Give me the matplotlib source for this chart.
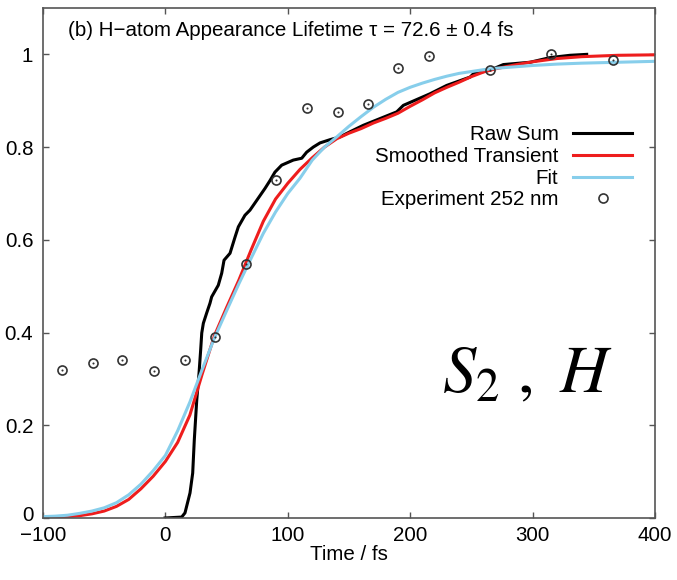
import matplotlib
matplotlib.use('Agg')
import matplotlib.pyplot as plt
import matplotlib.transforms as mtrans

plt.rcParams['font.family'] = ['Liberation Sans', 'DejaVu Sans']
plt.rcParams['font.size'] = 14.8
plt.rcParams['mathtext.fontset'] = 'stix'

# --- data ---
# raw sum (black, stepwise)
raw_t = [-0.3, 13.3, 16.0, 20.1, 22.3, 23.6, 25.6, 27.5, 28.8, 29.7, 31.0, 33.7, 36.4,
         37.8, 43.2, 46.0, 47.9, 52.8, 56.9, 59.6, 65.0, 69.1, 74.6, 81.4, 85.5, 89.5,
         95.0, 104.5, 111.4, 115.4, 120.8, 126.3, 134.5, 142.6, 150.8, 161.7, 189.0,
         194.4, 216.2, 229.8, 248.9, 251.6, 265.2, 276.1, 298.0, 314.2, 330.6, 344.2]
raw_y = [0.0, 0.002, 0.011, 0.054, 0.097, 0.168, 0.254, 0.313, 0.362, 0.399, 0.420,
         0.442, 0.463, 0.477, 0.502, 0.528, 0.556, 0.571, 0.606, 0.628, 0.653, 0.664,
         0.685, 0.711, 0.728, 0.746, 0.761, 0.772, 0.776, 0.789, 0.800, 0.809, 0.816,
         0.822, 0.833, 0.847, 0.876, 0.890, 0.915, 0.933, 0.951, 0.958, 0.966, 0.978,
         0.983, 0.993, 0.998, 1.0]

# smoothed transient (red)
smooth_t = [-100, -90, -80, -70, -60, -50, -40, -30, -20, -10, 0, 10, 20, 30, 40, 50,
            60, 70, 80, 90, 100, 110, 120, 130, 140, 150, 160, 170, 180, 190, 200, 210,
            220, 230, 240, 250, 260, 270, 285, 300, 320, 340, 370, 400]
smooth_y = [0.001, 0.002, 0.003, 0.005, 0.009, 0.015, 0.025, 0.040, 0.063, 0.090, 0.122,
            0.163, 0.222, 0.310, 0.393, 0.454, 0.513, 0.578, 0.640, 0.688, 0.722, 0.752,
            0.777, 0.800, 0.818, 0.830, 0.840, 0.852, 0.862, 0.873, 0.888, 0.902, 0.917,
            0.929, 0.940, 0.952, 0.962, 0.969, 0.977, 0.984, 0.991, 0.995, 0.998, 0.999]

# fit (light blue)
fit_t = [-100, -90, -80, -70, -60, -50, -40, -30, -20, -10, 0, 10, 20, 30, 40, 50, 60,
         70, 80, 90, 100, 110, 120, 130, 140, 150, 160, 170, 180, 190, 200, 210, 220,
         230, 240, 250, 260, 270, 285, 300, 320, 340, 370, 400]
fit_y = [0.003, 0.004, 0.006, 0.010, 0.015, 0.022, 0.033, 0.050, 0.073, 0.102, 0.135,
         0.188, 0.250, 0.320, 0.388, 0.447, 0.505, 0.560, 0.614, 0.660, 0.700, 0.733,
         0.772, 0.800, 0.822, 0.845, 0.866, 0.886, 0.903, 0.918, 0.929, 0.938, 0.946,
         0.953, 0.959, 0.963, 0.967, 0.970, 0.973, 0.976, 0.979, 0.981, 0.983, 0.985]

# experiment 252 nm
exp_t = [-84.5, -59.2, -35.5, -9.3, 16.0, 40.5, 65.8, 90.4, 115.7, 141.0, 165.5, 190.0,
         215.4, 265.0, 315.0, 365.7]
exp_y = [0.319, 0.334, 0.340, 0.317, 0.340, 0.390, 0.547, 0.728, 0.884, 0.875, 0.892,
         0.970, 0.996, 0.966, 1.0, 0.987]

xticks = [-100, 0, 100, 200, 300, 400]
xtick_labels = ['\u2212100', '0', '100', '200', '300', '400']
yticks = [0, 0.2, 0.4, 0.6, 0.8, 1.0]
ytick_labels = ['0', '0.2', '0.4', '0.6', '0.8', '1']

fig = plt.figure(figsize=(6.77, 5.80), dpi=100)
ax = fig.add_axes([43 / 677, 62 / 580, 612 / 677, 510 / 580])

ax.plot(raw_t, raw_y, color='black', lw=2.2, label='Raw Sum')
ax.plot(smooth_t, smooth_y, color='#ee1d1d', lw=2.2, label='Smoothed Transient')
ax.plot(fit_t, fit_y, color='#87ceeb', lw=2.2, label='Fit')
ax.plot(exp_t, exp_y, ls='none', marker='o', ms=6.5, mfc='none', mec='#333333', mew=1.2,
        label='Experiment 252 nm')
ax.plot(exp_t, exp_y, ls='none', marker='o', ms=1.5, mfc='#333333', mec='#333333', mew=0)

ax.set_xlim(-100, 400)
ax.set_ylim(0, 1.1)
ax.set_xticks(xticks)
ax.set_xticklabels(xtick_labels)
ax.set_yticks(yticks)
ax.set_yticklabels(ytick_labels)
ax.tick_params(direction='in', top=True, right=True, length=4.5, width=1, color='#555555')
ax.tick_params(axis='x', pad=5.5)
ax.tick_params(axis='y', pad=7)
for s in ax.spines.values():
    s.set_color('#555555')
    s.set_linewidth(1.2)
ax.set_xlabel('Time / fs', labelpad=0)

# nudge the bottom y label up a little so it clears the -100 below it
t0 = ax.yaxis.get_major_ticks()[0]
t0.label1.set_transform(t0.label1.get_transform() +
                        mtrans.ScaledTranslation(0, 3 / 72, fig.dpi_scale_trans))

ax.text(0.041, 1.052, '(b) H\u2212atom Appearance Lifetime \u03c4 = 72.6 \u00b1 0.4 fs',
        transform=ax.get_yaxis_transform(), ha='left', va='center')

ax.legend(loc='upper right', bbox_to_anchor=(0.98, 0.79), frameon=False, markerfirst=False,
          handlelength=2.9, labelspacing=0.13, handletextpad=0.7, borderpad=0,
          numpoints=1)

ax.text(296, 0.27, r'$S_2\ ,\ H$', fontsize=48, ha='center', va='baseline')

fig.savefig('out.png', dpi=100)
